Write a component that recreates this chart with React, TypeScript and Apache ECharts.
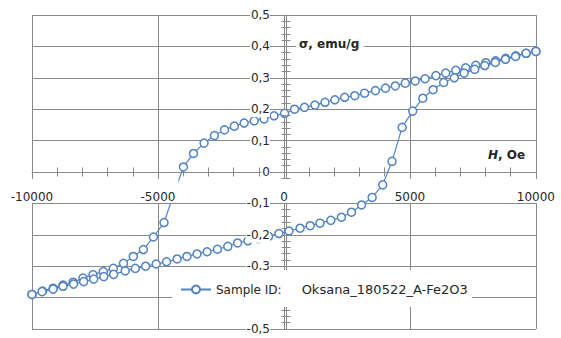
import { useEffect, useRef } from 'react';
import * as echarts from 'echarts';

// Descending branch (H from +10000 to -10000)
const descH = [10000, 9610, 9200, 8800, 8400, 8010, 7610, 7210, 6820, 6420, 6030, 5600, 5210, 4815, 4420, 4030, 3630, 3200, 2810, 2410, 2020, 1630, 1230, 815, 420, 26, -394, -790, -1180, -1580, -1970, -2360, -2760, -3170, -3590, -3990, -4380, -4760, -5180, -5580, -5980, -6370, -6770, -7170, -7580, -7980, -8370, -8770, -9160, -9580, -10000];
const descSigma = [0.384, 0.378, 0.370, 0.362, 0.354, 0.348, 0.340, 0.332, 0.324, 0.315, 0.307, 0.297, 0.290, 0.283, 0.274, 0.267, 0.259, 0.251, 0.243, 0.238, 0.230, 0.222, 0.213, 0.206, 0.200, 0.187, 0.179, 0.169, 0.163, 0.156, 0.146, 0.134, 0.116, 0.092, 0.059, 0.016, -0.072, -0.161, -0.207, -0.247, -0.269, -0.291, -0.307, -0.317, -0.327, -0.338, -0.351, -0.360, -0.370, -0.379, -0.390];

// Ascending branch (H from -10000 to +10000)
const ascH = [-10000, -9600, -9160, -8770, -8350, -7950, -7550, -7150, -6760, -6300, -5900, -5490, -5070, -4660, -4240, -3850, -3450, -3050, -2640, -2230, -1840, -1430, -1020, -610, -200, 200, 640, 1040, 1430, 1860, 2280, 2680, 3080, 3500, 3920, 4290, 4690, 5110, 5510, 5920, 6340, 6760, 7150, 7570, 7970, 8390, 8790, 9190, 9610, 10000];
const ascSigma = [-0.390, -0.381, -0.373, -0.364, -0.357, -0.349, -0.341, -0.333, -0.326, -0.315, -0.307, -0.300, -0.293, -0.286, -0.277, -0.269, -0.261, -0.254, -0.246, -0.237, -0.226, -0.219, -0.212, -0.205, -0.196, -0.188, -0.179, -0.171, -0.163, -0.154, -0.144, -0.128, -0.105, -0.081, -0.041, 0.034, 0.142, 0.194, 0.235, 0.262, 0.285, 0.300, 0.315, 0.327, 0.339, 0.349, 0.359, 0.368, 0.378, 0.384];

const xTicks = [-10000, -5000, 0, 5000, 10000];
const xTickLabels = ['-10000', '-5000', '0', '5000', '10000'];
const yTicks = [-0.5, -0.4, -0.3, -0.2, -0.1, 0, 0.1, 0.2, 0.3, 0.4, 0.5];
// the -0,4 label sits behind the legend box in the reference, so it is not shown
const yTickLabels = ['-0,5', '', '-0,3', '-0,2', '-0,1', '0', '0,1', '0,2', '0,3', '0,4', '0,5'];

const seriesName = 'Sample ID:';
const sampleId = 'Oksana_180522_A-Fe2O3';
const yTitle = 'σ, emu/g';
const xTitleItalic = 'H';
const xTitleRest = ', Oe';

const FONT = 'DejaVu Sans';
const GRID = '#898989';
const BLUE = '#5383c3';
const TEXT = '#262626';

const GRID_LEFT = 32;
const GRID_RIGHT = 21;
const GRID_TOP = 15;
const GRID_BOTTOM = 9;
const W = 561;
const H = 338;

function lookup(ticks: number[], labels: string[], v: number): string {
  for (let i = 0; i < ticks.length; i++) {
    if (Math.abs(ticks[i] - v) < 1e-6 * Math.max(1, Math.abs(ticks[i]))) return labels[i];
  }
  return '';
}

export default function App() {
  const ref = useRef<HTMLDivElement>(null);

  useEffect(() => {
    document.body.style.margin = '0';
    const chart = echarts.init(ref.current as HTMLDivElement, null, { renderer: 'svg' });

    const data: number[][] = [];
    descH.forEach((h, i) => data.push([h, descSigma[i]]));
    ascH.forEach((h, i) => data.push([h, ascSigma[i]]));

    const lineStyle = { color: GRID, width: 1 };
    // axes cross at zero, which is the middle of the symmetric ranges
    const plotW = W - GRID_LEFT - GRID_RIGHT;
    const plotH = H - GRID_TOP - GRID_BOTTOM;
    const xOff = -plotH / 2;
    const yOff = -plotW / 2;

    const option: any = {
      animation: false,
      backgroundColor: '#fff',
      grid: { left: GRID_LEFT, right: GRID_RIGHT, top: GRID_TOP, bottom: GRID_BOTTOM, containLabel: false },
      xAxis: [
        {
          type: 'value', position: 'bottom', offset: xOff, min: -10000, max: 10000, interval: 5000, z: 0,
          axisLine: { show: true, onZero: false, lineStyle },
          axisTick: { show: true, inside: true, length: 4.5, lineStyle },
          minorTick: { show: true, splitNumber: 5, length: 4.5, lineStyle },
          splitLine: { show: true, lineStyle },
          axisLabel: { show: false },
        },
        {
          type: 'value', position: 'bottom', offset: xOff, min: -10000, max: 10000, interval: 5000, z: 3,
          axisLine: { show: false, onZero: false },
          axisTick: { show: true, inside: false, length: 4.5, lineStyle },
          minorTick: { show: true, splitNumber: 5, length: 4.5, lineStyle },
          splitLine: { show: false },
          axisLabel: {
            show: true, margin: 7, fontFamily: FONT, fontSize: 12, color: TEXT,
            backgroundColor: '#fff', padding: [12, 3, 0, 3],
            formatter: (v: number) => lookup(xTicks, xTickLabels, v),
          },
        },
      ],
      yAxis: [
        {
          type: 'value', position: 'left', offset: yOff, min: -0.5, max: 0.5, interval: 0.1, z: 0,
          axisLine: { show: true, onZero: false, lineStyle },
          axisTick: { show: true, inside: true, length: 4.5, lineStyle },
          minorTick: { show: true, splitNumber: 5, length: 4.5, lineStyle },
          splitLine: { show: true, lineStyle },
          axisLabel: { show: false },
        },
        {
          type: 'value', position: 'left', offset: yOff, min: -0.5, max: 0.5, interval: 0.1, z: 3,
          axisLine: { show: false, onZero: false },
          axisTick: { show: true, inside: false, length: 4.5, lineStyle },
          minorTick: { show: true, splitNumber: 5, length: 4.5, lineStyle },
          splitLine: { show: false },
          axisLabel: {
            show: true, margin: 16, fontFamily: FONT, fontSize: 12, color: TEXT,
            backgroundColor: '#fff', padding: [2, 0, 2, 1],
            formatter: (v: number) => lookup(yTicks, yTickLabels, v),
          },
        },
      ],
      legend: {
        show: true, left: 172, top: 270, orient: 'horizontal', z: 5,
        backgroundColor: '#fff', padding: [13, 4, 11, 8],
        itemWidth: 30, itemHeight: 10,
        data: [seriesName],
        formatter: (name: string) => `{a|${name}}{b|${sampleId}}`,
        textStyle: {
          fontFamily: FONT, fontSize: 12, color: TEXT,
          rich: {
            a: { fontFamily: FONT, fontSize: 12, color: TEXT },
            b: { fontFamily: FONT, fontSize: 13, color: TEXT, padding: [0, 0, 0, 20] },
          },
        },
      },
      graphic: [
        {
          type: 'text', x: 296, y: 44, z: 10,
          style: {
            text: yTitle, font: `bold 12px "${FONT}"`, fill: TEXT,
            verticalAlign: 'middle', align: 'left',
            backgroundColor: '#fff', padding: [2, 5, 2, 3],
          },
        },
        {
          type: 'text', x: 488, y: 155, z: 10,
          style: {
            text: `{i|${xTitleItalic}}{b|${xTitleRest}}`,
            verticalAlign: 'middle', align: 'left', fill: TEXT,
            rich: {
              i: { fontFamily: FONT, fontSize: 12, fontWeight: 'bold', fontStyle: 'italic', fill: TEXT },
              b: { fontFamily: FONT, fontSize: 12, fontWeight: 'bold', fill: TEXT },
            },
          },
        },
      ],
      series: [
        {
          name: seriesName, type: 'line', xAxisIndex: 0, yAxisIndex: 0, z: 2,
          data,
          symbol: 'circle', symbolSize: 8, showAllSymbol: true,
          lineStyle: { color: BLUE, width: 1.2 },
          itemStyle: { color: '#fff', borderColor: BLUE, borderWidth: 1.5 },
          color: BLUE,
        },
      ],
    };

    chart.setOption(option);
    return () => chart.dispose();
  }, []);

  return <div ref={ref} style={{ width: W, height: H }} />;
}
